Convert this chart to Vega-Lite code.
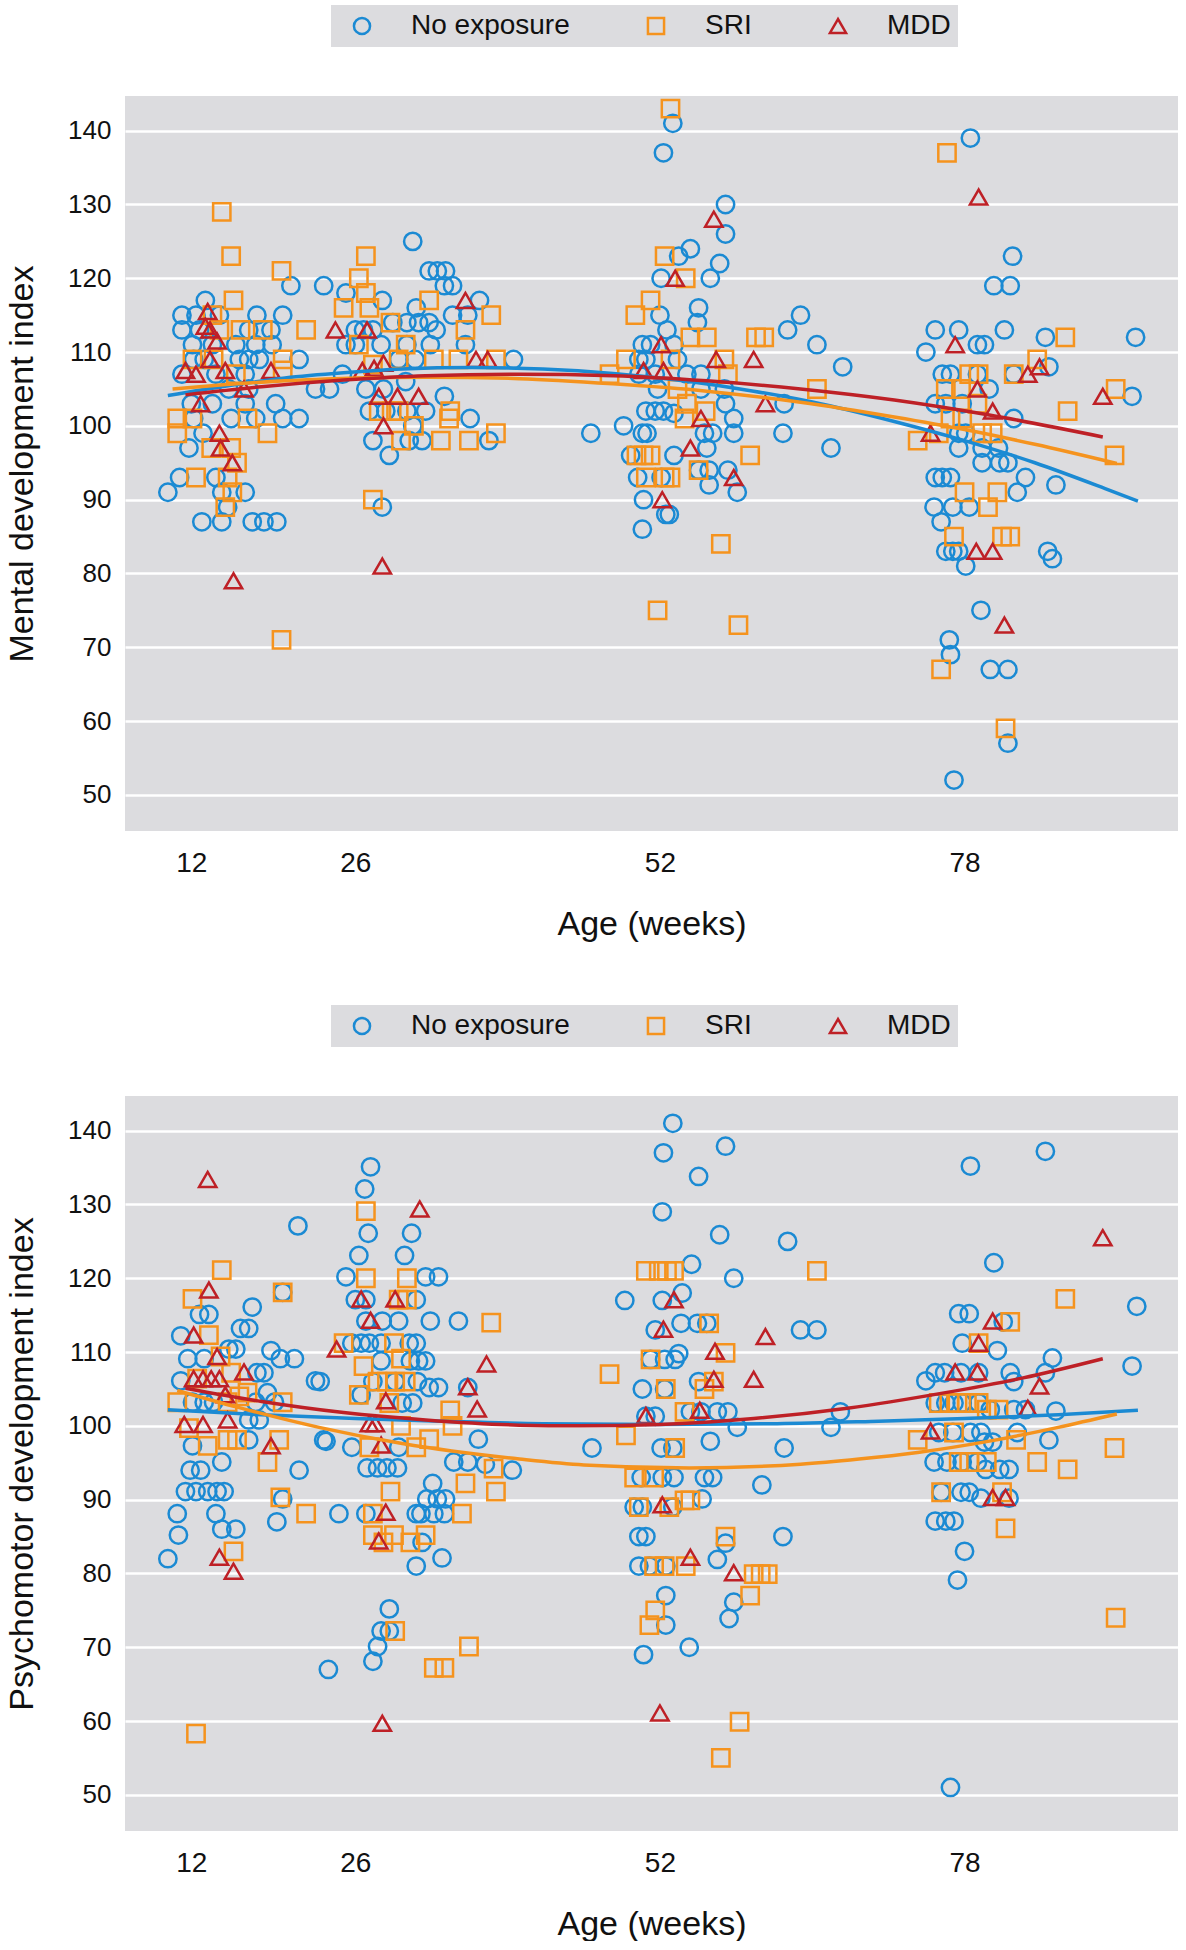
{
"$schema":"https://vega.github.io/schema/vega-lite/v6.json",
"background":"white",
"padding":{"left":5,"top":5,"right":0,"bottom":0},
"spacing":64,
"config":{
 "font":"Liberation Sans",
 "view":{"fill":"#dcdcdf","stroke":null},
 "axis":{"ticks":false,"tickSize":0,"domain":false,"labelColor":"#111","titleColor":"#111","titleFontWeight":"normal","labelFont":"Liberation Sans","titleFont":"Liberation Sans"},
 "axisX":{"grid":false,"labelFontSize":28,"labelPadding":18,"titleFontSize":34,"titlePadding":30},
 "axisY":{"grid":true,"gridColor":"white","gridWidth":2.5,"gridOpacity":1,"labelFontSize":26,"labelPadding":14,"titleFontSize":34,"titlePadding":28}
},
"resolve":{"scale":{"color":"independent","shape":"independent"}},
"datasets":{
"mdi":[
{"g":"No exposure","a":20.5,"v":119},{"g":"No exposure","a":23.3,"v":119},{"g":"No exposure","a":13.2,"v":117},{"g":"No exposure","a":11.2,"v":115},{"g":"No exposure","a":12.4,"v":115},{"g":"No exposure","a":14.4,"v":115},{"g":"No exposure","a":17.6,"v":115},{"g":"No exposure","a":19.8,"v":115},{"g":"No exposure","a":11.2,"v":113},{"g":"No exposure","a":12.7,"v":113},{"g":"No exposure","a":16.9,"v":113},{"g":"No exposure","a":18.8,"v":113},{"g":"No exposure","a":12.1,"v":111},{"g":"No exposure","a":13.8,"v":111},{"g":"No exposure","a":15.8,"v":111},{"g":"No exposure","a":17.5,"v":111},{"g":"No exposure","a":18.9,"v":111},{"g":"No exposure","a":12.2,"v":109},{"g":"No exposure","a":13.1,"v":109},{"g":"No exposure","a":16.1,"v":109},{"g":"No exposure","a":16.9,"v":109},{"g":"No exposure","a":17.8,"v":109},{"g":"No exposure","a":21.2,"v":109},{"g":"No exposure","a":11.2,"v":107},{"g":"No exposure","a":14.1,"v":107},{"g":"No exposure","a":16.6,"v":107},{"g":"No exposure","a":15.2,"v":105},{"g":"No exposure","a":22.6,"v":105},{"g":"No exposure","a":23.8,"v":105},{"g":"No exposure","a":16.9,"v":105},{"g":"No exposure","a":12.0,"v":103},{"g":"No exposure","a":13.8,"v":103},{"g":"No exposure","a":16.6,"v":103},{"g":"No exposure","a":19.2,"v":103},{"g":"No exposure","a":12.2,"v":101},{"g":"No exposure","a":15.4,"v":101},{"g":"No exposure","a":17.5,"v":101},{"g":"No exposure","a":19.8,"v":101},{"g":"No exposure","a":21.2,"v":101},{"g":"No exposure","a":11.8,"v":97},{"g":"No exposure","a":13.0,"v":99},{"g":"No exposure","a":11.0,"v":93},{"g":"No exposure","a":10.0,"v":91},{"g":"No exposure","a":14.1,"v":93},{"g":"No exposure","a":14.6,"v":91},{"g":"No exposure","a":16.6,"v":91},{"g":"No exposure","a":15.1,"v":89},{"g":"No exposure","a":12.9,"v":87},{"g":"No exposure","a":14.6,"v":87},{"g":"No exposure","a":17.2,"v":87},{"g":"No exposure","a":18.2,"v":87},{"g":"No exposure","a":19.3,"v":87},
{"g":"No exposure","a":30.9,"v":125},{"g":"No exposure","a":25.2,"v":118},{"g":"No exposure","a":28.3,"v":117},{"g":"No exposure","a":32.3,"v":121},{"g":"No exposure","a":33.0,"v":121},{"g":"No exposure","a":33.7,"v":121},{"g":"No exposure","a":33.6,"v":119},{"g":"No exposure","a":34.3,"v":119},{"g":"No exposure","a":36.6,"v":117},{"g":"No exposure","a":31.2,"v":116},{"g":"No exposure","a":29.2,"v":114},{"g":"No exposure","a":30.4,"v":114},{"g":"No exposure","a":31.4,"v":114},{"g":"No exposure","a":32.3,"v":114},{"g":"No exposure","a":32.9,"v":113},{"g":"No exposure","a":34.3,"v":115},{"g":"No exposure","a":35.6,"v":115},{"g":"No exposure","a":26.0,"v":113},{"g":"No exposure","a":26.7,"v":113},{"g":"No exposure","a":27.5,"v":113},{"g":"No exposure","a":25.2,"v":111},{"g":"No exposure","a":26.0,"v":111},{"g":"No exposure","a":28.2,"v":111},{"g":"No exposure","a":30.4,"v":111},{"g":"No exposure","a":32.4,"v":111},{"g":"No exposure","a":35.4,"v":111},{"g":"No exposure","a":39.5,"v":109},{"g":"No exposure","a":29.7,"v":109},{"g":"No exposure","a":31.1,"v":109},{"g":"No exposure","a":24.9,"v":107},{"g":"No exposure","a":26.9,"v":105},{"g":"No exposure","a":28.4,"v":105},{"g":"No exposure","a":30.3,"v":106},{"g":"No exposure","a":33.6,"v":104},{"g":"No exposure","a":27.2,"v":102},{"g":"No exposure","a":28.6,"v":102},{"g":"No exposure","a":30.4,"v":102},{"g":"No exposure","a":32.0,"v":102},{"g":"No exposure","a":35.8,"v":101},{"g":"No exposure","a":30.9,"v":100},{"g":"No exposure","a":27.5,"v":98},{"g":"No exposure","a":30.6,"v":98},{"g":"No exposure","a":31.7,"v":98},{"g":"No exposure","a":28.9,"v":96},{"g":"No exposure","a":37.4,"v":98},{"g":"No exposure","a":28.3,"v":89},
{"g":"No exposure","a":53.1,"v":141},{"g":"No exposure","a":52.3,"v":137},{"g":"No exposure","a":57.6,"v":130},{"g":"No exposure","a":57.6,"v":126},{"g":"No exposure","a":54.6,"v":124},{"g":"No exposure","a":53.6,"v":123},{"g":"No exposure","a":57.1,"v":122},{"g":"No exposure","a":56.3,"v":120},{"g":"No exposure","a":52.1,"v":120},{"g":"No exposure","a":55.3,"v":116},{"g":"No exposure","a":55.2,"v":114},{"g":"No exposure","a":52.0,"v":115},{"g":"No exposure","a":52.6,"v":113},{"g":"No exposure","a":64.0,"v":115},{"g":"No exposure","a":62.9,"v":113},{"g":"No exposure","a":50.5,"v":111},{"g":"No exposure","a":51.2,"v":111},{"g":"No exposure","a":53.2,"v":111},{"g":"No exposure","a":65.4,"v":111},{"g":"No exposure","a":67.6,"v":108},{"g":"No exposure","a":50.2,"v":109},{"g":"No exposure","a":50.8,"v":109},{"g":"No exposure","a":53.5,"v":109},{"g":"No exposure","a":50.2,"v":107},{"g":"No exposure","a":51.6,"v":107},{"g":"No exposure","a":54.3,"v":107},{"g":"No exposure","a":55.5,"v":107},{"g":"No exposure","a":51.8,"v":105},{"g":"No exposure","a":55.5,"v":105},{"g":"No exposure","a":57.5,"v":105},{"g":"No exposure","a":57.6,"v":103},{"g":"No exposure","a":62.6,"v":103},{"g":"No exposure","a":50.8,"v":102},{"g":"No exposure","a":51.6,"v":102},{"g":"No exposure","a":52.3,"v":102},{"g":"No exposure","a":53.2,"v":101.7},{"g":"No exposure","a":58.3,"v":101},{"g":"No exposure","a":46.1,"v":99},{"g":"No exposure","a":48.9,"v":100},{"g":"No exposure","a":50.5,"v":99},{"g":"No exposure","a":50.9,"v":99},{"g":"No exposure","a":55.8,"v":99},{"g":"No exposure","a":56.5,"v":99},{"g":"No exposure","a":58.3,"v":99},{"g":"No exposure","a":62.5,"v":99},{"g":"No exposure","a":66.6,"v":97},{"g":"No exposure","a":49.5,"v":96},{"g":"No exposure","a":53.2,"v":96},{"g":"No exposure","a":56.0,"v":97},{"g":"No exposure","a":55.3,"v":94},{"g":"No exposure","a":56.2,"v":94},{"g":"No exposure","a":57.8,"v":94},{"g":"No exposure","a":56.2,"v":92},{"g":"No exposure","a":58.6,"v":91},{"g":"No exposure","a":50.1,"v":93},{"g":"No exposure","a":52.1,"v":93},{"g":"No exposure","a":50.6,"v":90},{"g":"No exposure","a":52.5,"v":88},{"g":"No exposure","a":52.8,"v":88},{"g":"No exposure","a":50.5,"v":86},
{"g":"No exposure","a":78.5,"v":139},{"g":"No exposure","a":82.1,"v":123},{"g":"No exposure","a":80.5,"v":119},{"g":"No exposure","a":81.9,"v":119},{"g":"No exposure","a":75.5,"v":113},{"g":"No exposure","a":77.5,"v":113},{"g":"No exposure","a":81.4,"v":113},{"g":"No exposure","a":84.9,"v":112},{"g":"No exposure","a":92.6,"v":112},{"g":"No exposure","a":74.7,"v":110},{"g":"No exposure","a":79.1,"v":111},{"g":"No exposure","a":79.7,"v":111},{"g":"No exposure","a":85.2,"v":108},{"g":"No exposure","a":76.1,"v":107},{"g":"No exposure","a":76.8,"v":107},{"g":"No exposure","a":79.1,"v":107},{"g":"No exposure","a":80.1,"v":105},{"g":"No exposure","a":82.2,"v":107},{"g":"No exposure","a":75.5,"v":103},{"g":"No exposure","a":76.4,"v":103},{"g":"No exposure","a":77.8,"v":103},{"g":"No exposure","a":92.3,"v":104},{"g":"No exposure","a":82.2,"v":101},{"g":"No exposure","a":77.5,"v":99},{"g":"No exposure","a":78.1,"v":99},{"g":"No exposure","a":79.5,"v":97},{"g":"No exposure","a":80.9,"v":97},{"g":"No exposure","a":77.5,"v":97},{"g":"No exposure","a":79.5,"v":95},{"g":"No exposure","a":81.0,"v":95},{"g":"No exposure","a":81.7,"v":95},{"g":"No exposure","a":83.2,"v":93},{"g":"No exposure","a":85.8,"v":92},{"g":"No exposure","a":75.5,"v":93},{"g":"No exposure","a":76.1,"v":93},{"g":"No exposure","a":76.8,"v":93},{"g":"No exposure","a":82.5,"v":91},{"g":"No exposure","a":75.4,"v":89},{"g":"No exposure","a":77.0,"v":89},{"g":"No exposure","a":78.4,"v":89},{"g":"No exposure","a":76.0,"v":87},{"g":"No exposure","a":76.4,"v":83},{"g":"No exposure","a":77.0,"v":83},{"g":"No exposure","a":77.5,"v":83},{"g":"No exposure","a":78.1,"v":81},{"g":"No exposure","a":85.1,"v":83},{"g":"No exposure","a":85.5,"v":82},{"g":"No exposure","a":79.4,"v":75},{"g":"No exposure","a":76.7,"v":71},{"g":"No exposure","a":76.8,"v":69},{"g":"No exposure","a":80.2,"v":67},{"g":"No exposure","a":81.7,"v":67},{"g":"No exposure","a":81.7,"v":57},{"g":"No exposure","a":77.1,"v":52},
{"g":"SRI","a":14.6,"v":129},{"g":"SRI","a":15.4,"v":123},{"g":"SRI","a":19.7,"v":121},{"g":"SRI","a":15.6,"v":117},{"g":"SRI","a":21.8,"v":113},{"g":"SRI","a":16.2,"v":113},{"g":"SRI","a":18.1,"v":113},{"g":"SRI","a":13.8,"v":115},{"g":"SRI","a":14.4,"v":113},{"g":"SRI","a":12.1,"v":109},{"g":"SRI","a":19.8,"v":109},{"g":"SRI","a":13.9,"v":109},{"g":"SRI","a":15.8,"v":107},{"g":"SRI","a":19.8,"v":107.5},{"g":"SRI","a":10.8,"v":101},{"g":"SRI","a":12.1,"v":101},{"g":"SRI","a":16.8,"v":101},{"g":"SRI","a":18.5,"v":99},{"g":"SRI","a":10.8,"v":99},{"g":"SRI","a":13.7,"v":97},{"g":"SRI","a":15.4,"v":97},{"g":"SRI","a":15.9,"v":95},{"g":"SRI","a":12.4,"v":93},{"g":"SRI","a":15.1,"v":93},{"g":"SRI","a":15.5,"v":91},{"g":"SRI","a":14.9,"v":89},{"g":"SRI","a":19.7,"v":71},
{"g":"SRI","a":26.9,"v":123},{"g":"SRI","a":26.3,"v":120},{"g":"SRI","a":26.9,"v":118},{"g":"SRI","a":25.0,"v":116},{"g":"SRI","a":27.2,"v":116},{"g":"SRI","a":32.3,"v":117},{"g":"SRI","a":37.6,"v":115},{"g":"SRI","a":29.0,"v":114},{"g":"SRI","a":35.4,"v":113},{"g":"SRI","a":26.3,"v":111},{"g":"SRI","a":30.3,"v":111},{"g":"SRI","a":32.7,"v":109},{"g":"SRI","a":34.8,"v":109},{"g":"SRI","a":38.0,"v":109},{"g":"SRI","a":29.7,"v":109},{"g":"SRI","a":27.5,"v":108.3},{"g":"SRI","a":28.0,"v":102},{"g":"SRI","a":29.1,"v":102},{"g":"SRI","a":29.7,"v":102},{"g":"SRI","a":34.1,"v":102},{"g":"SRI","a":34.0,"v":101},{"g":"SRI","a":31.0,"v":100},{"g":"SRI","a":29.9,"v":98},{"g":"SRI","a":33.3,"v":98},{"g":"SRI","a":35.7,"v":98},{"g":"SRI","a":38.0,"v":99},{"g":"SRI","a":27.5,"v":90},
{"g":"SRI","a":52.9,"v":143},{"g":"SRI","a":52.4,"v":123},{"g":"SRI","a":54.2,"v":120},{"g":"SRI","a":51.2,"v":117},{"g":"SRI","a":49.9,"v":115},{"g":"SRI","a":54.6,"v":112},{"g":"SRI","a":56.0,"v":112},{"g":"SRI","a":60.2,"v":112},{"g":"SRI","a":60.9,"v":112},{"g":"SRI","a":49.1,"v":109},{"g":"SRI","a":47.7,"v":107},{"g":"SRI","a":52.9,"v":109},{"g":"SRI","a":57.5,"v":109},{"g":"SRI","a":57.8,"v":107},{"g":"SRI","a":65.4,"v":105},{"g":"SRI","a":53.5,"v":105},{"g":"SRI","a":54.3,"v":103},{"g":"SRI","a":54.1,"v":101},{"g":"SRI","a":55.9,"v":102},{"g":"SRI","a":50.0,"v":96},{"g":"SRI","a":50.6,"v":96},{"g":"SRI","a":51.2,"v":96},{"g":"SRI","a":59.7,"v":96},{"g":"SRI","a":50.8,"v":93},{"g":"SRI","a":52.4,"v":93},{"g":"SRI","a":52.9,"v":93},{"g":"SRI","a":55.3,"v":94},{"g":"SRI","a":57.2,"v":84},{"g":"SRI","a":51.8,"v":75},{"g":"SRI","a":58.7,"v":73},
{"g":"SRI","a":76.5,"v":137},{"g":"SRI","a":86.6,"v":112},{"g":"SRI","a":84.2,"v":109},{"g":"SRI","a":82.2,"v":107},{"g":"SRI","a":78.4,"v":107},{"g":"SRI","a":79.2,"v":107},{"g":"SRI","a":76.4,"v":105},{"g":"SRI","a":77.7,"v":105},{"g":"SRI","a":90.9,"v":105},{"g":"SRI","a":79.1,"v":103},{"g":"SRI","a":86.8,"v":102},{"g":"SRI","a":76.8,"v":101},{"g":"SRI","a":77.8,"v":101},{"g":"SRI","a":79.5,"v":99},{"g":"SRI","a":80.4,"v":99},{"g":"SRI","a":75.8,"v":99},{"g":"SRI","a":74.0,"v":98},{"g":"SRI","a":90.8,"v":96},{"g":"SRI","a":78.0,"v":91},{"g":"SRI","a":80.8,"v":91},{"g":"SRI","a":80.0,"v":89},{"g":"SRI","a":77.1,"v":85},{"g":"SRI","a":81.2,"v":85},{"g":"SRI","a":81.9,"v":85},{"g":"SRI","a":76.0,"v":67},{"g":"SRI","a":81.5,"v":59},
{"g":"MDD","a":13.4,"v":115.5},{"g":"MDD","a":13.2,"v":113.5},{"g":"MDD","a":13.6,"v":113},{"g":"MDD","a":14.2,"v":111.5},{"g":"MDD","a":13.6,"v":109},{"g":"MDD","a":11.5,"v":107.5},{"g":"MDD","a":12.4,"v":107},{"g":"MDD","a":14.9,"v":107.5},{"g":"MDD","a":18.8,"v":107.5},{"g":"MDD","a":16.5,"v":105},{"g":"MDD","a":12.8,"v":103},{"g":"MDD","a":14.4,"v":99},{"g":"MDD","a":14.5,"v":97},{"g":"MDD","a":15.5,"v":95},{"g":"MDD","a":15.6,"v":79},{"g":"MDD","a":24.3,"v":113},
{"g":"MDD","a":27.0,"v":113},{"g":"MDD","a":35.4,"v":117},{"g":"MDD","a":36.3,"v":109},{"g":"MDD","a":37.3,"v":109},{"g":"MDD","a":26.6,"v":107.5},{"g":"MDD","a":27.6,"v":107.8},{"g":"MDD","a":28.4,"v":108.5},{"g":"MDD","a":28.0,"v":104},{"g":"MDD","a":29.6,"v":104},{"g":"MDD","a":31.4,"v":104},{"g":"MDD","a":28.4,"v":100},{"g":"MDD","a":28.3,"v":81},
{"g":"MDD","a":56.6,"v":128},{"g":"MDD","a":53.3,"v":120},{"g":"MDD","a":52.1,"v":111},{"g":"MDD","a":56.8,"v":109},{"g":"MDD","a":60.0,"v":109},{"g":"MDD","a":50.6,"v":107.5},{"g":"MDD","a":52.3,"v":107.5},{"g":"MDD","a":61.0,"v":103},{"g":"MDD","a":55.5,"v":101},{"g":"MDD","a":54.6,"v":97},{"g":"MDD","a":58.3,"v":93},{"g":"MDD","a":52.2,"v":90},
{"g":"MDD","a":79.2,"v":131},{"g":"MDD","a":77.2,"v":111},{"g":"MDD","a":84.4,"v":108},{"g":"MDD","a":83.4,"v":107},{"g":"MDD","a":79.1,"v":105},{"g":"MDD","a":80.4,"v":102},{"g":"MDD","a":89.8,"v":104},{"g":"MDD","a":75.1,"v":99},{"g":"MDD","a":79.0,"v":83},{"g":"MDD","a":80.4,"v":83},{"g":"MDD","a":81.4,"v":73}
],
"pdi":[
{"g":"No exposure","a":21.1,"v":127.1},{"g":"No exposure","a":19.8,"v":118.1},{"g":"No exposure","a":12.7,"v":115.1},{"g":"No exposure","a":13.5,"v":115.1},{"g":"No exposure","a":17.2,"v":116.1},{"g":"No exposure","a":11.1,"v":112.2},{"g":"No exposure","a":16.2,"v":113.2},{"g":"No exposure","a":16.9,"v":113.2},{"g":"No exposure","a":11.7,"v":109.1},{"g":"No exposure","a":13.1,"v":109.1},{"g":"No exposure","a":15.2,"v":110.4},{"g":"No exposure","a":15.8,"v":110.4},{"g":"No exposure","a":18.8,"v":110.2},{"g":"No exposure","a":19.6,"v":109.1},{"g":"No exposure","a":20.8,"v":109.1},{"g":"No exposure","a":11.1,"v":106.1},{"g":"No exposure","a":17.6,"v":107.2},{"g":"No exposure","a":18.2,"v":107.2},{"g":"No exposure","a":22.6,"v":106.1},{"g":"No exposure","a":12.1,"v":103.2},{"g":"No exposure","a":13.1,"v":103.2},{"g":"No exposure","a":13.9,"v":103.2},{"g":"No exposure","a":17.5,"v":103.2},{"g":"No exposure","a":18.5,"v":104.5},{"g":"No exposure","a":19.1,"v":103.2},{"g":"No exposure","a":16.9,"v":100.8},{"g":"No exposure","a":17.8,"v":100.8},{"g":"No exposure","a":12.1,"v":97.3},{"g":"No exposure","a":16.9,"v":98.1},{"g":"No exposure","a":23.3,"v":98.1},{"g":"No exposure","a":11.9,"v":94.0},{"g":"No exposure","a":12.8,"v":94.0},{"g":"No exposure","a":14.6,"v":95.1},{"g":"No exposure","a":21.2,"v":94.0},{"g":"No exposure","a":11.5,"v":91.1},{"g":"No exposure","a":12.4,"v":91.1},{"g":"No exposure","a":13.4,"v":91.1},{"g":"No exposure","a":14.2,"v":91.1},{"g":"No exposure","a":14.8,"v":91.1},{"g":"No exposure","a":19.8,"v":90.1},{"g":"No exposure","a":10.8,"v":88.1},{"g":"No exposure","a":14.1,"v":88.1},{"g":"No exposure","a":19.3,"v":87.0},{"g":"No exposure","a":14.6,"v":86.0},{"g":"No exposure","a":15.8,"v":86.0},{"g":"No exposure","a":10.9,"v":85.2},{"g":"No exposure","a":10.0,"v":82.0},{"g":"No exposure","a":23.7,"v":67.0},
{"g":"No exposure","a":27.3,"v":135.1},{"g":"No exposure","a":26.8,"v":132.1},{"g":"No exposure","a":27.1,"v":126.1},{"g":"No exposure","a":30.8,"v":126.1},{"g":"No exposure","a":26.3,"v":123.1},{"g":"No exposure","a":30.2,"v":123.1},{"g":"No exposure","a":25.2,"v":120.2},{"g":"No exposure","a":32.0,"v":120.2},{"g":"No exposure","a":33.1,"v":120.2},{"g":"No exposure","a":26.0,"v":117.1},{"g":"No exposure","a":26.9,"v":117.1},{"g":"No exposure","a":31.2,"v":117.1},{"g":"No exposure","a":26.9,"v":114.2},{"g":"No exposure","a":28.3,"v":114.2},{"g":"No exposure","a":29.7,"v":114.2},{"g":"No exposure","a":32.4,"v":114.2},{"g":"No exposure","a":34.8,"v":114.2},{"g":"No exposure","a":25.7,"v":111.2},{"g":"No exposure","a":26.5,"v":111.2},{"g":"No exposure","a":27.2,"v":111.2},{"g":"No exposure","a":28.2,"v":111.2},{"g":"No exposure","a":30.6,"v":111.2},{"g":"No exposure","a":31.2,"v":111.2},{"g":"No exposure","a":28.2,"v":108.8},{"g":"No exposure","a":30.7,"v":108.8},{"g":"No exposure","a":31.4,"v":108.8},{"g":"No exposure","a":32.0,"v":108.8},{"g":"No exposure","a":23.0,"v":106.0},{"g":"No exposure","a":27.5,"v":106.0},{"g":"No exposure","a":29.4,"v":106.0},{"g":"No exposure","a":31.3,"v":106.0},{"g":"No exposure","a":32.3,"v":105.2},{"g":"No exposure","a":33.1,"v":105.2},{"g":"No exposure","a":26.5,"v":104.2},{"g":"No exposure","a":30.0,"v":103.1},{"g":"No exposure","a":30.9,"v":103.1},{"g":"No exposure","a":35.6,"v":105.2},{"g":"No exposure","a":23.5,"v":97.9},{"g":"No exposure","a":25.7,"v":97.1},{"g":"No exposure","a":29.7,"v":97.1},{"g":"No exposure","a":36.5,"v":98.2},{"g":"No exposure","a":27.0,"v":94.3},{"g":"No exposure","a":27.9,"v":94.3},{"g":"No exposure","a":28.7,"v":94.3},{"g":"No exposure","a":29.6,"v":94.3},{"g":"No exposure","a":34.4,"v":95.1},{"g":"No exposure","a":35.6,"v":95.1},{"g":"No exposure","a":37.1,"v":94.8},{"g":"No exposure","a":39.4,"v":94.0},{"g":"No exposure","a":32.6,"v":92.2},{"g":"No exposure","a":32.1,"v":90.1},{"g":"No exposure","a":33.0,"v":90.1},{"g":"No exposure","a":33.7,"v":90.1},{"g":"No exposure","a":31.6,"v":88.1},{"g":"No exposure","a":32.7,"v":88.1},{"g":"No exposure","a":33.6,"v":88.1},{"g":"No exposure","a":24.6,"v":88.1},{"g":"No exposure","a":26.9,"v":88.1},{"g":"No exposure","a":31.2,"v":88.1},{"g":"No exposure","a":31.7,"v":84.2},{"g":"No exposure","a":33.4,"v":82.1},{"g":"No exposure","a":31.2,"v":81.0},{"g":"No exposure","a":28.9,"v":75.2},{"g":"No exposure","a":28.2,"v":72.2},{"g":"No exposure","a":28.9,"v":72.2},{"g":"No exposure","a":27.9,"v":70.1},{"g":"No exposure","a":27.5,"v":68.1},
{"g":"No exposure","a":53.1,"v":141.0},{"g":"No exposure","a":52.3,"v":137.0},{"g":"No exposure","a":57.6,"v":137.9},{"g":"No exposure","a":55.3,"v":133.8},{"g":"No exposure","a":52.2,"v":129.0},{"g":"No exposure","a":57.1,"v":125.9},{"g":"No exposure","a":62.9,"v":125.0},{"g":"No exposure","a":54.7,"v":121.9},{"g":"No exposure","a":58.3,"v":120.0},{"g":"No exposure","a":49.0,"v":117.0},{"g":"No exposure","a":52.2,"v":117.0},{"g":"No exposure","a":53.9,"v":118.0},{"g":"No exposure","a":51.6,"v":113.0},{"g":"No exposure","a":53.8,"v":113.9},{"g":"No exposure","a":55.2,"v":113.9},{"g":"No exposure","a":56.0,"v":113.9},{"g":"No exposure","a":64.0,"v":113.0},{"g":"No exposure","a":65.4,"v":113.0},{"g":"No exposure","a":51.2,"v":109.0},{"g":"No exposure","a":52.4,"v":109.0},{"g":"No exposure","a":53.3,"v":109.0},{"g":"No exposure","a":53.6,"v":109.8},{"g":"No exposure","a":50.5,"v":105.0},{"g":"No exposure","a":52.4,"v":105.0},{"g":"No exposure","a":55.3,"v":106.0},{"g":"No exposure","a":54.6,"v":101.9},{"g":"No exposure","a":55.5,"v":101.9},{"g":"No exposure","a":56.9,"v":101.9},{"g":"No exposure","a":57.8,"v":101.9},{"g":"No exposure","a":50.8,"v":101.3},{"g":"No exposure","a":51.6,"v":101.3},{"g":"No exposure","a":58.6,"v":99.8},{"g":"No exposure","a":67.4,"v":101.9},{"g":"No exposure","a":66.6,"v":99.8},{"g":"No exposure","a":46.2,"v":97.0},{"g":"No exposure","a":52.1,"v":97.0},{"g":"No exposure","a":53.1,"v":97.0},{"g":"No exposure","a":56.3,"v":97.9},{"g":"No exposure","a":62.6,"v":97.0},{"g":"No exposure","a":50.4,"v":93.0},{"g":"No exposure","a":52.2,"v":93.0},{"g":"No exposure","a":53.2,"v":93.0},{"g":"No exposure","a":55.8,"v":93.0},{"g":"No exposure","a":56.5,"v":93.0},{"g":"No exposure","a":60.7,"v":92.0},{"g":"No exposure","a":49.8,"v":89.0},{"g":"No exposure","a":50.5,"v":89.0},{"g":"No exposure","a":53.1,"v":89.0},{"g":"No exposure","a":55.6,"v":90.1},{"g":"No exposure","a":50.2,"v":85.0},{"g":"No exposure","a":50.8,"v":85.0},{"g":"No exposure","a":57.6,"v":84.1},{"g":"No exposure","a":62.5,"v":85.0},{"g":"No exposure","a":50.2,"v":81.0},{"g":"No exposure","a":51.1,"v":81.0},{"g":"No exposure","a":52.5,"v":81.0},{"g":"No exposure","a":56.9,"v":81.9},{"g":"No exposure","a":52.5,"v":77.0},{"g":"No exposure","a":58.3,"v":76.1},{"g":"No exposure","a":57.9,"v":73.9},{"g":"No exposure","a":52.5,"v":73.0},{"g":"No exposure","a":54.5,"v":70.0},{"g":"No exposure","a":50.6,"v":69.0},
{"g":"No exposure","a":78.5,"v":135.2},{"g":"No exposure","a":84.9,"v":137.2},{"g":"No exposure","a":80.5,"v":122.1},{"g":"No exposure","a":92.7,"v":116.2},{"g":"No exposure","a":77.5,"v":115.2},{"g":"No exposure","a":78.4,"v":115.2},{"g":"No exposure","a":81.3,"v":114.1},{"g":"No exposure","a":77.8,"v":111.2},{"g":"No exposure","a":80.8,"v":110.2},{"g":"No exposure","a":85.5,"v":109.2},{"g":"No exposure","a":92.3,"v":108.1},{"g":"No exposure","a":74.7,"v":106.1},{"g":"No exposure","a":75.5,"v":107.2},{"g":"No exposure","a":76.3,"v":107.2},{"g":"No exposure","a":77.7,"v":107.2},{"g":"No exposure","a":79.2,"v":107.2},{"g":"No exposure","a":81.9,"v":107.2},{"g":"No exposure","a":82.2,"v":106.0},{"g":"No exposure","a":84.9,"v":107.2},{"g":"No exposure","a":75.5,"v":103.1},{"g":"No exposure","a":76.4,"v":103.1},{"g":"No exposure","a":77.1,"v":103.1},{"g":"No exposure","a":77.8,"v":103.1},{"g":"No exposure","a":79.2,"v":103.1},{"g":"No exposure","a":80.2,"v":102.2},{"g":"No exposure","a":82.2,"v":102.2},{"g":"No exposure","a":83.2,"v":102.2},{"g":"No exposure","a":85.8,"v":102.0},{"g":"No exposure","a":75.8,"v":99.1},{"g":"No exposure","a":77.0,"v":99.1},{"g":"No exposure","a":78.5,"v":99.1},{"g":"No exposure","a":79.4,"v":99.1},{"g":"No exposure","a":79.7,"v":97.8},{"g":"No exposure","a":80.4,"v":97.8},{"g":"No exposure","a":82.5,"v":99.1},{"g":"No exposure","a":85.2,"v":98.1},{"g":"No exposure","a":75.4,"v":95.1},{"g":"No exposure","a":76.5,"v":95.1},{"g":"No exposure","a":77.8,"v":95.1},{"g":"No exposure","a":79.1,"v":95.1},{"g":"No exposure","a":79.8,"v":94.1},{"g":"No exposure","a":81.0,"v":94.1},{"g":"No exposure","a":81.8,"v":94.1},{"g":"No exposure","a":76.0,"v":91.0},{"g":"No exposure","a":77.7,"v":91.0},{"g":"No exposure","a":78.4,"v":91.0},{"g":"No exposure","a":79.4,"v":90.2},{"g":"No exposure","a":81.8,"v":90.2},{"g":"No exposure","a":75.5,"v":87.1},{"g":"No exposure","a":76.4,"v":87.1},{"g":"No exposure","a":77.1,"v":87.1},{"g":"No exposure","a":78.0,"v":83.0},{"g":"No exposure","a":77.4,"v":79.1},{"g":"No exposure","a":76.8,"v":51.0},
{"g":"SRI","a":14.6,"v":121.1},{"g":"SRI","a":12.1,"v":117.2},{"g":"SRI","a":19.8,"v":118.1},{"g":"SRI","a":13.5,"v":112.3},{"g":"SRI","a":14.5,"v":109.4},{"g":"SRI","a":12.5,"v":106.4},{"g":"SRI","a":15.4,"v":107.2},{"g":"SRI","a":16.8,"v":104.5},{"g":"SRI","a":10.8,"v":103.2},{"g":"SRI","a":19.8,"v":103.2},{"g":"SRI","a":15.1,"v":103.2},{"g":"SRI","a":16.1,"v":104.0},{"g":"SRI","a":11.8,"v":99.7},{"g":"SRI","a":13.4,"v":97.3},{"g":"SRI","a":15.1,"v":98.1},{"g":"SRI","a":15.9,"v":98.1},{"g":"SRI","a":19.5,"v":98.1},{"g":"SRI","a":18.5,"v":95.1},{"g":"SRI","a":19.6,"v":90.3},{"g":"SRI","a":21.8,"v":88.1},{"g":"SRI","a":15.6,"v":83.0},{"g":"SRI","a":12.4,"v":58.3},
{"g":"SRI","a":26.9,"v":129.1},{"g":"SRI","a":26.9,"v":120.0},{"g":"SRI","a":30.4,"v":120.0},{"g":"SRI","a":29.7,"v":117.1},{"g":"SRI","a":30.4,"v":117.1},{"g":"SRI","a":37.6,"v":114.0},{"g":"SRI","a":25.0,"v":111.2},{"g":"SRI","a":29.3,"v":111.2},{"g":"SRI","a":26.7,"v":108.1},{"g":"SRI","a":29.9,"v":109.1},{"g":"SRI","a":27.9,"v":106.0},{"g":"SRI","a":28.7,"v":106.0},{"g":"SRI","a":29.4,"v":106.0},{"g":"SRI","a":30.3,"v":106.0},{"g":"SRI","a":26.3,"v":104.2},{"g":"SRI","a":28.9,"v":103.1},{"g":"SRI","a":34.1,"v":102.1},{"g":"SRI","a":29.9,"v":100.0},{"g":"SRI","a":34.3,"v":100.0},{"g":"SRI","a":32.3,"v":98.2},{"g":"SRI","a":27.2,"v":97.1},{"g":"SRI","a":31.2,"v":97.1},{"g":"SRI","a":37.8,"v":94.2},{"g":"SRI","a":35.4,"v":92.2},{"g":"SRI","a":38.0,"v":91.1},{"g":"SRI","a":29.0,"v":91.1},{"g":"SRI","a":35.1,"v":88.1},{"g":"SRI","a":27.5,"v":88.1},{"g":"SRI","a":27.5,"v":85.2},{"g":"SRI","a":28.4,"v":84.2},{"g":"SRI","a":29.3,"v":85.2},{"g":"SRI","a":30.7,"v":84.2},{"g":"SRI","a":32.0,"v":85.2},{"g":"SRI","a":29.4,"v":72.2},{"g":"SRI","a":35.7,"v":70.1},{"g":"SRI","a":32.7,"v":67.2},{"g":"SRI","a":33.6,"v":67.2},
{"g":"SRI","a":50.8,"v":121.0},{"g":"SRI","a":51.9,"v":121.0},{"g":"SRI","a":52.6,"v":121.0},{"g":"SRI","a":53.2,"v":121.0},{"g":"SRI","a":65.4,"v":121.0},{"g":"SRI","a":56.2,"v":113.9},{"g":"SRI","a":51.2,"v":109.0},{"g":"SRI","a":57.6,"v":109.9},{"g":"SRI","a":47.7,"v":107.0},{"g":"SRI","a":52.5,"v":105.0},{"g":"SRI","a":56.6,"v":106.0},{"g":"SRI","a":55.8,"v":105.0},{"g":"SRI","a":54.1,"v":101.9},{"g":"SRI","a":49.1,"v":98.7},{"g":"SRI","a":53.3,"v":97.0},{"g":"SRI","a":49.8,"v":93.0},{"g":"SRI","a":51.5,"v":93.0},{"g":"SRI","a":50.2,"v":89.0},{"g":"SRI","a":52.8,"v":89.0},{"g":"SRI","a":54.1,"v":89.9},{"g":"SRI","a":54.6,"v":89.9},{"g":"SRI","a":57.6,"v":85.0},{"g":"SRI","a":51.5,"v":81.0},{"g":"SRI","a":52.4,"v":81.0},{"g":"SRI","a":54.2,"v":81.0},{"g":"SRI","a":60.0,"v":79.9},{"g":"SRI","a":60.6,"v":79.9},{"g":"SRI","a":61.2,"v":79.9},{"g":"SRI","a":59.7,"v":77.0},{"g":"SRI","a":51.6,"v":75.0},{"g":"SRI","a":51.1,"v":73.0},{"g":"SRI","a":58.8,"v":59.9},{"g":"SRI","a":57.2,"v":55.0},
{"g":"SRI","a":86.6,"v":117.2},{"g":"SRI","a":81.9,"v":114.1},{"g":"SRI","a":79.2,"v":111.2},{"g":"SRI","a":75.8,"v":103.1},{"g":"SRI","a":76.7,"v":103.1},{"g":"SRI","a":77.4,"v":103.1},{"g":"SRI","a":78.2,"v":103.1},{"g":"SRI","a":79.2,"v":103.1},{"g":"SRI","a":79.9,"v":102.2},{"g":"SRI","a":80.9,"v":102.2},{"g":"SRI","a":77.1,"v":99.1},{"g":"SRI","a":74.0,"v":98.1},{"g":"SRI","a":82.4,"v":98.1},{"g":"SRI","a":90.8,"v":97.0},{"g":"SRI","a":77.5,"v":95.1},{"g":"SRI","a":78.4,"v":95.1},{"g":"SRI","a":79.9,"v":95.1},{"g":"SRI","a":84.2,"v":95.1},{"g":"SRI","a":86.8,"v":94.1},{"g":"SRI","a":76.0,"v":91.0},{"g":"SRI","a":81.2,"v":91.0},{"g":"SRI","a":81.5,"v":86.1},{"g":"SRI","a":90.9,"v":74.0},
{"g":"MDD","a":13.4,"v":133.4},{"g":"MDD","a":13.5,"v":118.4},{"g":"MDD","a":12.2,"v":112.3},{"g":"MDD","a":14.2,"v":109.4},{"g":"MDD","a":16.5,"v":107.3},{"g":"MDD","a":12.2,"v":106.4},{"g":"MDD","a":13.0,"v":106.4},{"g":"MDD","a":13.7,"v":106.4},{"g":"MDD","a":14.4,"v":106.4},{"g":"MDD","a":14.9,"v":104.2},{"g":"MDD","a":11.4,"v":100.2},{"g":"MDD","a":13.0,"v":100.2},{"g":"MDD","a":15.1,"v":100.8},{"g":"MDD","a":18.8,"v":97.3},{"g":"MDD","a":14.4,"v":82.2},{"g":"MDD","a":15.6,"v":80.3},
{"g":"MDD","a":24.4,"v":110.4},{"g":"MDD","a":31.5,"v":129.4},{"g":"MDD","a":26.5,"v":117.2},{"g":"MDD","a":29.4,"v":117.2},{"g":"MDD","a":27.3,"v":114.3},{"g":"MDD","a":37.2,"v":108.4},{"g":"MDD","a":35.6,"v":105.3},{"g":"MDD","a":36.4,"v":102.3},{"g":"MDD","a":28.6,"v":103.4},{"g":"MDD","a":27.2,"v":100.3},{"g":"MDD","a":27.7,"v":100.3},{"g":"MDD","a":28.2,"v":97.4},{"g":"MDD","a":28.6,"v":88.3},{"g":"MDD","a":28.0,"v":84.4},{"g":"MDD","a":28.3,"v":59.7},
{"g":"MDD","a":53.2,"v":117.1},{"g":"MDD","a":52.3,"v":113.1},{"g":"MDD","a":61.0,"v":112.1},{"g":"MDD","a":56.7,"v":110.1},{"g":"MDD","a":60.0,"v":106.3},{"g":"MDD","a":56.6,"v":106.3},{"g":"MDD","a":55.4,"v":102.1},{"g":"MDD","a":50.8,"v":101.4},{"g":"MDD","a":52.2,"v":89.3},{"g":"MDD","a":54.6,"v":82.2},{"g":"MDD","a":58.3,"v":80.1},{"g":"MDD","a":52.0,"v":61.1},
{"g":"MDD","a":89.8,"v":125.5},{"g":"MDD","a":80.4,"v":114.2},{"g":"MDD","a":79.2,"v":111.2},{"g":"MDD","a":77.2,"v":107.3},{"g":"MDD","a":79.1,"v":107.3},{"g":"MDD","a":84.4,"v":105.4},{"g":"MDD","a":83.4,"v":102.4},{"g":"MDD","a":75.1,"v":99.3},{"g":"MDD","a":80.4,"v":90.3},{"g":"MDD","a":81.5,"v":90.3}
],
"mdifit":[
{"g":"No exposure","a":10,"v":104.1},{"g":"No exposure","a":15,"v":105.4},{"g":"No exposure","a":20,"v":106.5},{"g":"No exposure","a":25,"v":107.2},{"g":"No exposure","a":30,"v":107.7},{"g":"No exposure","a":36,"v":107.9},{"g":"No exposure","a":42,"v":107.7},{"g":"No exposure","a":48,"v":107.1},{"g":"No exposure","a":54,"v":106.1},{"g":"No exposure","a":60,"v":104.7},{"g":"No exposure","a":66,"v":102.9},{"g":"No exposure","a":72,"v":100.6},{"g":"No exposure","a":78,"v":98.0},{"g":"No exposure","a":84,"v":95.0},{"g":"No exposure","a":90,"v":91.5},{"g":"No exposure","a":92.8,"v":89.8},
{"g":"SRI","a":10.4,"v":105.0},{"g":"SRI","a":15,"v":105.6},{"g":"SRI","a":20,"v":106.1},{"g":"SRI","a":26,"v":106.5},{"g":"SRI","a":32,"v":106.6},{"g":"SRI","a":40,"v":106.4},{"g":"SRI","a":48,"v":105.7},{"g":"SRI","a":56,"v":104.7},{"g":"SRI","a":64,"v":103.2},{"g":"SRI","a":72,"v":101.2},{"g":"SRI","a":78,"v":99.5},{"g":"SRI","a":84,"v":97.5},{"g":"SRI","a":91,"v":94.9},
{"g":"MDD","a":11.5,"v":104.2},{"g":"MDD","a":18,"v":105.3},{"g":"MDD","a":25,"v":106.2},{"g":"MDD","a":32,"v":106.8},{"g":"MDD","a":40,"v":107.0},{"g":"MDD","a":48,"v":106.8},{"g":"MDD","a":56,"v":106.1},{"g":"MDD","a":64,"v":105.0},{"g":"MDD","a":72,"v":103.5},{"g":"MDD","a":80,"v":101.5},{"g":"MDD","a":89.8,"v":98.5}
],
"pdifit":[
{"g":"No exposure","a":10,"v":102.2},{"g":"No exposure","a":18,"v":101.5},{"g":"No exposure","a":26,"v":101.0},{"g":"No exposure","a":34,"v":100.6},{"g":"No exposure","a":42,"v":100.3},{"g":"No exposure","a":52,"v":100.2},{"g":"No exposure","a":62,"v":100.3},{"g":"No exposure","a":70,"v":100.6},{"g":"No exposure","a":78,"v":101.0},{"g":"No exposure","a":86,"v":101.5},{"g":"No exposure","a":92.8,"v":102.1},
{"g":"SRI","a":10.8,"v":104.8},{"g":"SRI","a":16,"v":102.5},{"g":"SRI","a":22.9,"v":99.8},{"g":"SRI","a":30,"v":97.6},{"g":"SRI","a":40,"v":95.5},{"g":"SRI","a":45.5,"v":94.7},{"g":"SRI","a":54.5,"v":94.3},{"g":"SRI","a":64,"v":94.8},{"g":"SRI","a":69,"v":95.5},{"g":"SRI","a":74,"v":96.4},{"g":"SRI","a":80,"v":97.9},{"g":"SRI","a":86,"v":99.8},{"g":"SRI","a":91,"v":101.6},
{"g":"MDD","a":11.5,"v":105.1},{"g":"MDD","a":18,"v":103.3},{"g":"MDD","a":25,"v":101.8},{"g":"MDD","a":32,"v":100.8},{"g":"MDD","a":40,"v":100.1},{"g":"MDD","a":45,"v":100.0},{"g":"MDD","a":52,"v":100.2},{"g":"MDD","a":60,"v":101.0},{"g":"MDD","a":68,"v":102.4},{"g":"MDD","a":76,"v":104.4},{"g":"MDD","a":83,"v":106.5},{"g":"MDD","a":89.8,"v":109.1}
]
},
"vconcat":[
{
 "width":1053,"height":735,
 "layer":[
  {"data":{"name":"mdi"},
   "mark":{"type":"point","filled":false,"strokeWidth":2.5,"size":300,"opacity":1},
   "encoding":{
    "x":{"field":"a","type":"quantitative","scale":{"domain":[6.34,96.22],"nice":false,"zero":false},"axis":{"values":[12,26,52,78],"title":"Age (weeks)"}},
    "y":{"field":"v","type":"quantitative","scale":{"domain":[45.1,144.7],"nice":false,"zero":false},"axis":{"values":[50,60,70,80,90,100,110,120,130,140],"title":"Mental development index"}},
    "color":{"field":"g","type":"nominal","scale":{"domain":["No exposure","SRI","MDD"],"range":["#1b8ad3","#f5931e","#be2026"]},
     "legend":{"title":" ","titleOrient":"left","titleFontSize":10,"titlePadding":10,"orient":"none","legendX":206,"legendY":-91,"direction":"horizontal","fillColor":"#dcdcdf","padding":7,"labelFontSize":28,"labelColor":"#111","labelOffset":35,"columnPadding":72,"symbolSize":260,"symbolStrokeWidth":2.5}},
    "shape":{"field":"g","type":"nominal","scale":{"domain":["No exposure","SRI","MDD"],"range":["circle","square","triangle-up"]},
     "legend":{"title":" ","titleOrient":"left","titleFontSize":10,"titlePadding":10,"orient":"none","legendX":206,"legendY":-91,"direction":"horizontal","fillColor":"#dcdcdf","padding":7,"labelFontSize":28,"labelColor":"#111","labelOffset":35,"columnPadding":72,"symbolSize":260,"symbolStrokeWidth":2.5}}
   }},
  {"data":{"name":"mdifit"},
   "mark":{"type":"line","strokeWidth":3.5,"interpolate":"monotone"},
   "encoding":{
    "x":{"field":"a","type":"quantitative"},
    "y":{"field":"v","type":"quantitative"},
    "color":{"field":"g","type":"nominal","legend":null}
   }}
 ]
},
{
 "width":1053,"height":735,
 "layer":[
  {"data":{"name":"pdi"},
   "mark":{"type":"point","filled":false,"strokeWidth":2.5,"size":300,"opacity":1},
   "encoding":{
    "x":{"field":"a","type":"quantitative","scale":{"domain":[6.34,96.22],"nice":false,"zero":false},"axis":{"values":[12,26,52,78],"title":"Age (weeks)"}},
    "y":{"field":"v","type":"quantitative","scale":{"domain":[45.1,144.7],"nice":false,"zero":false},"axis":{"values":[50,60,70,80,90,100,110,120,130,140],"title":"Psychomotor development index"}},
    "color":{"field":"g","type":"nominal","scale":{"domain":["No exposure","SRI","MDD"],"range":["#1b8ad3","#f5931e","#be2026"]},
     "legend":{"title":" ","titleOrient":"left","titleFontSize":10,"titlePadding":10,"orient":"none","legendX":206,"legendY":-91,"direction":"horizontal","fillColor":"#dcdcdf","padding":7,"labelFontSize":28,"labelColor":"#111","labelOffset":35,"columnPadding":72,"symbolSize":260,"symbolStrokeWidth":2.5}},
    "shape":{"field":"g","type":"nominal","scale":{"domain":["No exposure","SRI","MDD"],"range":["circle","square","triangle-up"]},
     "legend":{"title":" ","titleOrient":"left","titleFontSize":10,"titlePadding":10,"orient":"none","legendX":206,"legendY":-91,"direction":"horizontal","fillColor":"#dcdcdf","padding":7,"labelFontSize":28,"labelColor":"#111","labelOffset":35,"columnPadding":72,"symbolSize":260,"symbolStrokeWidth":2.5}}
   }},
  {"data":{"name":"pdifit"},
   "mark":{"type":"line","strokeWidth":3.5,"interpolate":"monotone"},
   "encoding":{
    "x":{"field":"a","type":"quantitative"},
    "y":{"field":"v","type":"quantitative"},
    "color":{"field":"g","type":"nominal","legend":null}
   }}
 ]
}
]
}
